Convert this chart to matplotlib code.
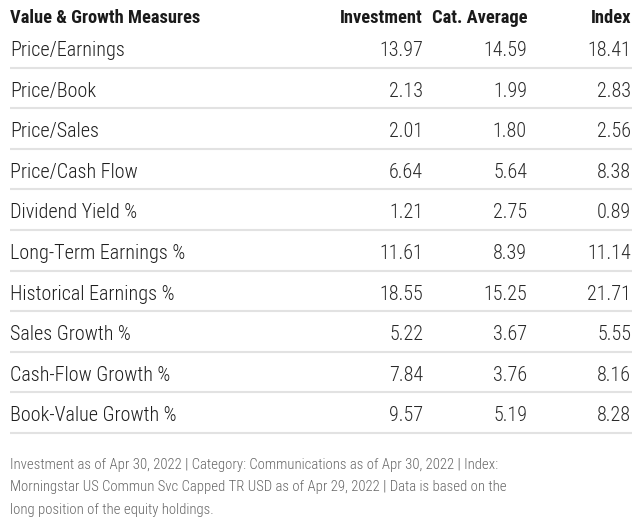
import matplotlib
matplotlib.use("Agg")
import matplotlib.pyplot as plt
from matplotlib import font_manager

# table data
header = ["Value & Growth Measures", "Investment", "Cat. Average", "Index"]
metrics = ["Price/Earnings", "Price/Book", "Price/Sales", "Price/Cash Flow",
           "Dividend Yield %", "Long-Term Earnings %", "Historical Earnings %",
           "Sales Growth %", "Cash-Flow Growth %", "Book-Value Growth %"]
investment = ["13.97", "2.13", "2.01", "6.64", "1.21", "11.61", "18.55", "5.22", "7.84", "9.57"]
cat_average = ["14.59", "1.99", "1.80", "5.64", "2.75", "8.39", "15.25", "3.67", "3.76", "5.19"]
index_vals = ["18.41", "2.83", "2.56", "8.38", "0.89", "11.14", "21.71", "5.55", "8.16", "8.28"]
footnote = ("Investment as of Apr 30, 2022 | Category: Communications as of Apr 30, 2022 | Index:\n"
            "Morningstar US Commun Svc Capped TR USD as of Apr 29, 2022 | Data is based on the\n"
            "long position of the equity holdings.")

available = {f.name for f in font_manager.fontManager.ttflist}
font = "DejaVu Sans"
for cand in ["Roboto Condensed", "Liberation Sans Narrow", "Roboto", "Liberation Sans"]:
    if cand in available:
        font = cand
        break
plt.rcParams['font.family'] = [font, 'DejaVu Sans']
narrow = font in ("Roboto Condensed", "Liberation Sans Narrow")

fig = plt.figure(figsize=(6.4, 5.31), dpi=100)
ax = fig.add_axes([0, 0, 1, 1])
ax.set_xlim(0, 640)
ax.set_ylim(531, 0)
ax.axis("off")

col_right = [423, 527, 631]
left = 10
row_size = 14.5 if narrow else 12.5
head_size = 13.3 if narrow else 11.0
foot_size = 10.6 if narrow else 9.2

ax.text(left, 18, header[0], fontsize=head_size, fontweight="bold", color="#1a1a1a", va="center", ha="left")
for x, h in zip(col_right, header[1:]):
    ax.text(x, 18, h, fontsize=head_size, fontweight="bold", color="#1a1a1a", va="center", ha="right")

row_h = 40.6
for i, name in enumerate(metrics):
    y = 49 + i * row_h
    ax.text(left, y + 1.5, name, fontsize=row_size, fontweight="light", color="#1e1e1e", va="center", ha="left")
    for x, v in zip(col_right, [investment[i], cat_average[i], index_vals[i]]):
        ax.text(x, y + 1.5, v, fontsize=row_size, fontweight="light", color="#2a2a2a", va="center", ha="right")
    ax.plot([10, 632], [y + 18.5, y + 18.5], color="#e2e2e2", lw=1.5, solid_capstyle="butt")

ax.text(left, 487.5, footnote, fontsize=foot_size, fontweight="light", color="#666666",
        va="center", ha="left", linespacing=1.8)

fig.savefig("out.png", dpi=100, facecolor="white")
